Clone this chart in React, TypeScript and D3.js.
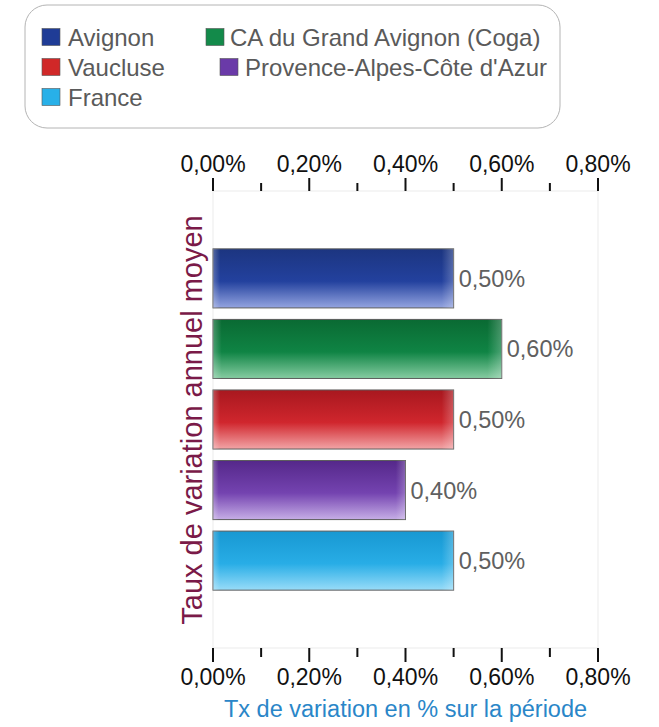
import React from "react";
import * as d3 from "d3";

const categories = ["Avignon", "CA du Grand Avignon (Coga)", "Vaucluse", "Provence-Alpes-Côte d'Azur", "France"];
const values = [0.5, 0.6, 0.5, 0.4, 0.5];
const valueLabels = ["0,50%", "0,60%", "0,50%", "0,40%", "0,50%"];
const majorTicks = [0, 0.2, 0.4, 0.6, 0.8];
const minorTicks = [0.1, 0.3, 0.5, 0.7];
const tickLabels = ["0,00%", "0,20%", "0,40%", "0,60%", "0,80%"];
const colors = [
  ["#1c3580", "#23419e", "#94a4e0"],
  ["#0a6a33", "#0f8444", "#86cca2"],
  ["#a8181f", "#d0262d", "#f2a4a6"],
  ["#55288a", "#7443b0", "#c6aee6"],
  ["#1898d2", "#28ade6", "#98dcf8"],
];
const legendColors = ["#1f3c96", "#138a4a", "#d02828", "#6a3aa8", "#28b0e8"];

const FONT = "'Liberation Sans', Arial, sans-serif";

export default function App() {
  const W = 659, H = 727;
  const left = 213, right = 598, top = 191, bottom = 648;
  const x = d3.scaleLinear().domain([0, 0.8]).range([left, right]);
  const y = d3.scaleBand<string>().domain(categories).range([top, bottom]).paddingInner(0.163).paddingOuter(0.82);
  const bw = y.bandwidth();

  const legendItems = [
    { i: 0, sx: 42, tx: 68, cy: 37 },
    { i: 1, sx: 206, tx: 230, cy: 37 },
    { i: 2, sx: 42, tx: 68, cy: 67 },
    { i: 3, sx: 220, tx: 245, cy: 67 },
    { i: 4, sx: 42, tx: 68, cy: 97 },
  ];

  return (
    <svg width={W} height={H} style={{ position: "absolute", left: 0, top: 0, background: "#fff" }} fontFamily={FONT}>
      <defs>
        {colors.map((c, i) => (
          <linearGradient key={i} id={`g${i}`} x1="0" y1="0" x2="0" y2="1">
            <stop offset="0" stopColor={c[0]} />
            <stop offset="0.55" stopColor={c[1]} />
            <stop offset="1" stopColor={c[2]} />
          </linearGradient>
        ))}
        <linearGradient id="shine" x1="0" y1="0" x2="1" y2="0">
          <stop offset="0" stopColor="#fff" stopOpacity="0.25" />
          <stop offset="0.03" stopColor="#fff" stopOpacity="0" />
          <stop offset="0.95" stopColor="#fff" stopOpacity="0" />
          <stop offset="1" stopColor="#fff" stopOpacity="0.25" />
        </linearGradient>
      </defs>

      {/* legend */}
      <rect x={25} y={5} width={535} height={123} rx={22} ry={22} fill="#fff" stroke="#b4b4b4" strokeWidth={1} />
      {legendItems.map((d) => (
        <g key={d.i}>
          <rect x={d.sx} y={d.cy - 8.5} width={18} height={17} fill={legendColors[d.i]} stroke="#555" strokeWidth={0.6} />
          <text x={d.tx} y={d.cy} dy="0.36em" fontSize={24} fill="#5a5a5a">{categories[d.i]}</text>
        </g>
      ))}

      {/* plot frame */}
      <rect x={left} y={top} width={right - left} height={bottom - top} fill="none" stroke="#ebebeb" strokeWidth={1} />

      {/* ticks */}
      {majorTicks.map((t, i) => (
        <g key={"M" + i}>
          <line x1={x(t)} x2={x(t)} y1={178} y2={top} stroke="#111" strokeWidth={2} />
          <line x1={x(t)} x2={x(t)} y1={bottom} y2={662} stroke="#111" strokeWidth={2} />
          <text x={x(t)} y={172} textAnchor="middle" fontSize={23} fill="#111">{tickLabels[i]}</text>
          <text x={x(t)} y={685} textAnchor="middle" fontSize={23} fill="#111">{tickLabels[i]}</text>
        </g>
      ))}
      {minorTicks.map((t, i) => (
        <g key={"m" + i}>
          <line x1={x(t)} x2={x(t)} y1={183} y2={top} stroke="#111" strokeWidth={2} />
          <line x1={x(t)} x2={x(t)} y1={bottom} y2={657} stroke="#111" strokeWidth={2} />
        </g>
      ))}

      {/* bars */}
      {categories.map((c, i) => {
        const y0 = y(c) as number;
        const w = x(values[i]) - x(0);
        return (
          <g key={c}>
            <rect x={x(0)} y={y0} width={w} height={bw} fill={`url(#g${i})`} stroke="#5c5c5c" strokeWidth={1} />
            <rect x={x(0)} y={y0} width={w} height={bw} fill="url(#shine)" />
            <text x={x(values[i]) + 5} y={y0 + bw / 2} dy="0.36em" fontSize={23.5} fill="#606060">{valueLabels[i]}</text>
          </g>
        );
      })}

      {/* axis titles */}
      <text transform={`translate(202, ${(213 + 627) / 2}) rotate(-90)`} textAnchor="middle" fontSize={29} fill="#7a1a48">
        Taux de variation annuel moyen
      </text>
      <text x={(left + right) / 2} y={717} textAnchor="middle" fontSize={23.5} fill="#2a86c8">
        Tx de variation en % sur la période
      </text>
    </svg>
  );
}
